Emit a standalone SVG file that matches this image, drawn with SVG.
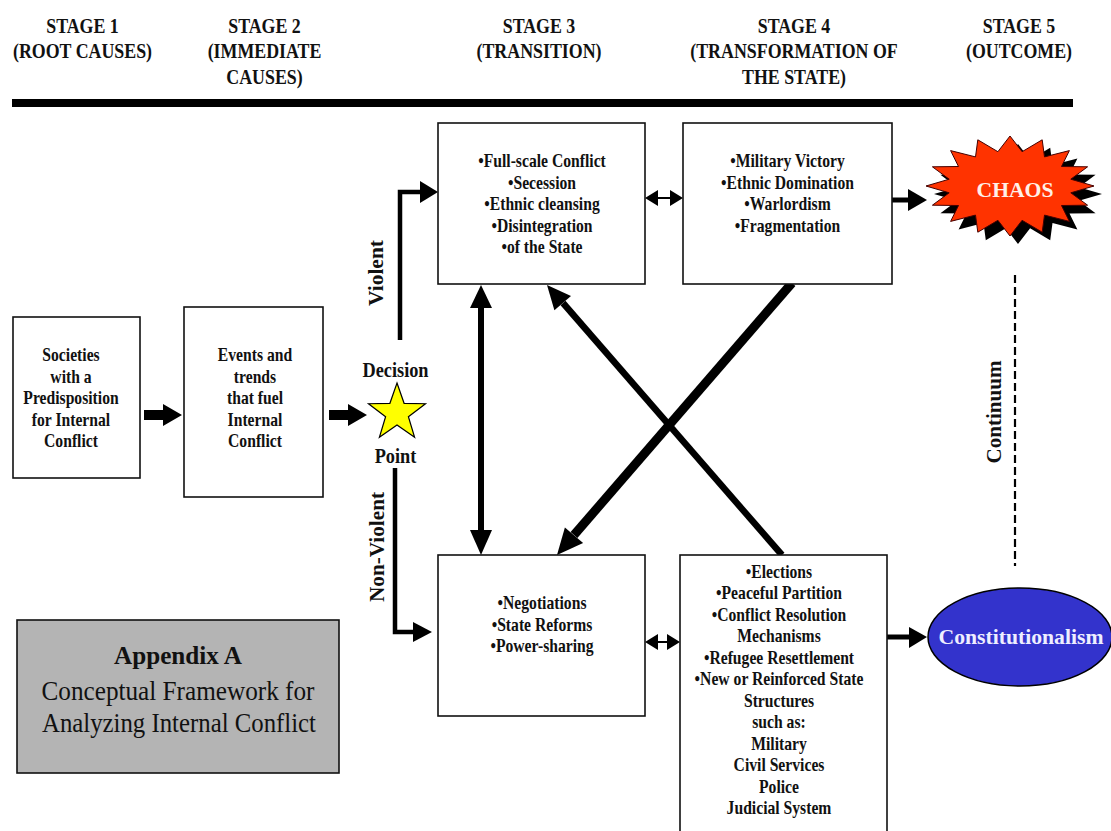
<svg xmlns="http://www.w3.org/2000/svg" width="1111" height="831" viewBox="0 0 1111 831">
<style>
text{font-family:"Liberation Serif","Times New Roman",serif;font-weight:bold;fill:#111;text-anchor:middle}
.box{fill:#fff;stroke:#111;stroke-width:1.6}
.hd{font-size:20.3px}
.bt{font-size:17.8px}
.dp{font-size:20.8px}
.rot{font-size:20px}
.ln{fill:none;stroke:#000;stroke-linejoin:miter}
.hdw{fill:#000}
</style>
<defs>
<polygon id="burst" points="1094,186 1070.8,192.8 1087.6,205.2 1061.5,205.5 1069.4,221.4 1044.5,215.1 1042.2,232.2 1022.1,220.3 1010,236 997.9,220.3 977.8,232.2 975.5,215.1 950.6,221.4 958.5,205.5 932.4,205.2 949.2,192.8 926,186 949.2,179.2 932.4,166.8 958.5,166.5 950.6,150.6 975.5,156.9 977.8,139.8 997.9,151.7 1010,136 1022.1,151.7 1042.2,139.8 1044.5,156.9 1069.4,150.6 1061.5,166.5 1087.6,166.8 1070.8,179.2"/>
</defs>
<rect width="1111" height="831" fill="#fff"/>

<g id="header">
<rect x="12" y="99" width="1061" height="8" fill="#000"/>
<g transform="matrix(0.88 0 0 1 82.5 0)" class="hd"><text x="0" y="33">STAGE 1</text><text x="0" y="58.5">(ROOT CAUSES)</text></g>
<g transform="matrix(0.88 0 0 1 264.5 0)" class="hd"><text x="0" y="33">STAGE 2</text><text x="0" y="58.5">(IMMEDIATE</text><text x="0" y="84">CAUSES)</text></g>
<g transform="matrix(0.88 0 0 1 539 0)" class="hd"><text x="0" y="33">STAGE 3</text><text x="0" y="58.5">(TRANSITION)</text></g>
<g transform="matrix(0.88 0 0 1 794 0)" class="hd"><text x="0" y="33">STAGE 4</text><text x="0" y="58.5">(TRANSFORMATION OF</text><text x="0" y="84">THE STATE)</text></g>
<g transform="matrix(0.88 0 0 1 1019 0)" class="hd"><text x="0" y="33">STAGE 5</text><text x="0" y="58.5">(OUTCOME)</text></g>
</g>

<g id="connectors">
<!-- stage1 -> stage2 -->
<polygon class="hdw" points="144,410 163,410 163,404 182,415 163,426 163,420 144,420"/>
<!-- stage2 -> decision -->
<polygon class="hdw" points="329,410 348,410 348,404 367,415 348,426 348,420 329,420"/>
<!-- violent -->
<polyline class="ln" stroke-width="4.5" points="400,340 400,192 422,192"/>
<polygon class="hdw" points="420,181 438,192 420,203"/>
<!-- non-violent -->
<polyline class="ln" stroke-width="4.5" points="395,468 395,632 415,632"/>
<polygon class="hdw" points="413,622 432,632 413,642"/>
<!-- vertical double -->
<line class="ln" stroke-width="6" x1="481" y1="300" x2="481" y2="540"/>
<polygon class="hdw" points="481,285 492,308 470,308"/>
<polygon class="hdw" points="481,555 492,530 470,530"/>
<!-- top double -->
<line class="ln" stroke-width="2" x1="655" y1="198" x2="673" y2="198"/>
<polygon class="hdw" points="645,198 658,190 658,206"/>
<polygon class="hdw" points="683,198 670,190 670,206"/>
<!-- bottom double -->
<line class="ln" stroke-width="2" x1="655" y1="642" x2="670" y2="642"/>
<polygon class="hdw" points="645,642 658,634 658,650"/>
<polygon class="hdw" points="680,642 667,634 667,650"/>
<!-- cross A: bottom S4 -> top S3 -->
<line class="ln" stroke-width="6.5" x1="782" y1="555" x2="563" y2="303"/>
<polygon class="hdw" points="547,285 571,295.9 554.4,310.3"/>
<!-- cross B: top S4 -> bottom S3 -->
<line class="ln" stroke-width="9" x1="792" y1="283" x2="574" y2="535"/>
<polygon class="hdw" points="557,555 564.9,527.5 583.1,543.1"/>
<!-- to chaos -->
<line class="ln" stroke-width="5" x1="892" y1="200" x2="910" y2="200"/>
<polygon class="hdw" points="908,189 927,200 908,211"/>
<!-- to constitutionalism -->
<line class="ln" stroke-width="5" x1="887" y1="637" x2="911" y2="637"/>
<polygon class="hdw" points="909,627 927,637 909,648"/>
<!-- continuum -->
<line x1="1015" y1="275" x2="1015" y2="566" stroke="#000" stroke-width="2.2" stroke-dasharray="8,4"/>
<text class="rot" transform="translate(1001,412) rotate(-90)" x="0" y="0" textLength="103" lengthAdjust="spacingAndGlyphs">Continuum</text>
<text class="rot" transform="translate(383,273) rotate(-90)" x="0" y="0" textLength="66" lengthAdjust="spacingAndGlyphs">Violent</text>
<text class="rot" transform="translate(384,547) rotate(-90)" x="0" y="0" textLength="110" lengthAdjust="spacingAndGlyphs">Non-Violent</text>
</g>

<g id="stage1">
<rect class="box" x="13" y="317" width="127" height="161"/>
<g transform="matrix(0.88 0 0 1 71 0)" class="bt"><text x="0" y="361">Societies</text><text x="0" y="383">with a</text><text x="0" y="404">Predisposition</text><text x="0" y="426">for Internal</text><text x="0" y="447">Conflict</text></g>
</g>

<g id="stage2">
<rect class="box" x="184" y="307" width="139" height="190"/>
<g transform="matrix(0.88 0 0 1 255 0)" class="bt"><text x="0" y="361">Events and</text><text x="0" y="383">trends</text><text x="0" y="404">that fuel</text><text x="0" y="426">Internal</text><text x="0" y="447">Conflict</text></g>
</g>

<g id="decision">
<polygon points="397,383 404.1,403.3 425.5,403.7 408.4,416.7 414.6,437.3 397,425 379.4,437.3 385.6,416.7 368.5,403.7 389.9,403.3" fill="#ffff00" stroke="#000" stroke-width="1.2"/>
<g transform="matrix(0.88 0 0 1 395.5 0)" class="dp"><text x="0" y="377">Decision</text><text x="0" y="463">Point</text></g>
</g>

<g id="stage3-violent">
<rect class="box" x="438" y="123" width="207" height="161"/>
<g transform="matrix(0.88 0 0 1 542 0)" class="bt"><text x="0" y="167.5">•Full-scale Conflict</text><text x="0" y="189">•Secession</text><text x="0" y="210.5">•Ethnic cleansing</text><text x="0" y="232">•Disintegration</text><text x="0" y="253.5">•of the State</text></g>
</g>

<g id="stage4-violent">
<rect class="box" x="683" y="123" width="209" height="161"/>
<g transform="matrix(0.88 0 0 1 787.5 0)" class="bt"><text x="0" y="167.5">•Military Victory</text><text x="0" y="189">•Ethnic Domination</text><text x="0" y="210.5">•Warlordism</text><text x="0" y="232">•Fragmentation</text></g>
</g>

<g id="stage3-nonviolent">
<rect class="box" x="438" y="555" width="207" height="161"/>
<g transform="matrix(0.88 0 0 1 542 0)" class="bt"><text x="0" y="609.5">•Negotiations</text><text x="0" y="631">•State Reforms</text><text x="0" y="652.5">•Power-sharing</text></g>
</g>

<g id="stage4-nonviolent">
<rect class="box" x="680" y="555" width="207" height="290"/>
<g transform="matrix(0.88 0 0 1 779 0)" class="bt"><text x="0" y="578">•Elections</text><text x="0" y="599.5">•Peaceful Partition</text><text x="0" y="621">•Conflict Resolution</text><text x="0" y="642.5">Mechanisms</text><text x="0" y="664">•Refugee Resettlement</text><text x="0" y="685.5">•New or Reinforced State</text><text x="0" y="707">Structures</text><text x="0" y="728.5">such as:</text><text x="0" y="750">Military</text><text x="0" y="771.5">Civil Services</text><text x="0" y="793">Police</text><text x="0" y="814.5">Judicial System</text></g>
</g>

<g id="chaos">
<use href="#burst" transform="translate(8,8)" fill="#000"/>
<use href="#burst" fill="#ff3300" stroke="#400" stroke-width="1"/>
<text x="1015" y="197" style="font-size:22px;fill:#fff0e8" textLength="77" lengthAdjust="spacingAndGlyphs">CHAOS</text>
</g>

<g id="constitutionalism">
<ellipse cx="1020" cy="637" rx="92" ry="49" fill="#3333cc" stroke="#000" stroke-width="1.5"/>
<text x="1021" y="644" style="font-size:22px;fill:#eef" textLength="165" lengthAdjust="spacingAndGlyphs">Constitutionalism</text>
</g>

<g id="appendix">
<rect x="17" y="620" width="322" height="153" fill="#b4b4b4" stroke="#111" stroke-width="1.6"/>
<text x="178" y="664" style="font-size:26px" textLength="128" lengthAdjust="spacingAndGlyphs">Appendix A</text>
<text x="178" y="700" style="font-size:27px;font-weight:normal" textLength="273" lengthAdjust="spacingAndGlyphs">Conceptual Framework for</text>
<text x="179" y="732" style="font-size:27px;font-weight:normal" textLength="274" lengthAdjust="spacingAndGlyphs">Analyzing Internal Conflict</text>
</g>
</svg>
